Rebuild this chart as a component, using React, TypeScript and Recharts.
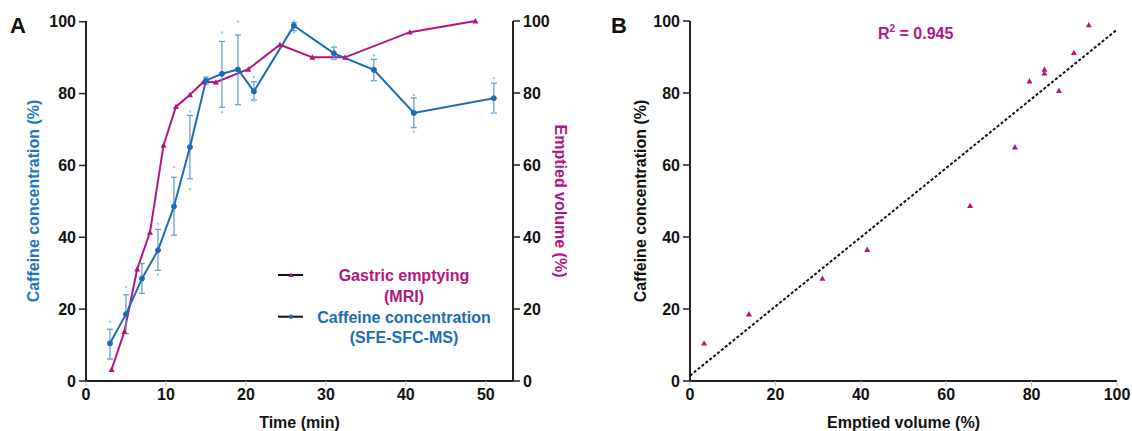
import React from "react";
import {
  ComposedChart,
  Line,
  Scatter,
  XAxis,
  YAxis,
  ErrorBar,
} from "recharts";

// ---------- data ----------
const caffTime = [3, 5, 7, 9, 11, 13, 15, 17, 19, 21, 26, 31, 36, 41, 51];
const caffMean = [10.5, 18.6, 28.5, 36.4, 48.6, 65.1, 83.6, 85.5, 86.7, 80.6, 98.9, 91.2, 86.6, 74.6, 78.7];
const caffErrLow = [4.4, 5.4, 4.1, 5.6, 8.0, 8.8, 1.0, 9.3, 9.8, 2.4, 1.4, 1.7, 3.0, 4.1, 4.1];
const caffErrHigh = [3.9, 5.4, 4.2, 5.8, 8.1, 8.8, 1.0, 9.0, 9.6, 2.7, 0.9, 1.7, 2.9, 4.2, 4.2];

const repTime = [3, 5, 9, 9, 11, 13, 13, 17, 17, 19, 21, 21, 26, 26, 31, 31, 36, 36, 41, 41, 51, 51];
const repValue = [16.5, 26.2, 43.8, 29.6, 59.5, 75.0, 53.4, 97.0, 74.8, 100.1, 84.6, 78.0, 100.2, 97.0, 93.1, 89.5, 90.7, 83.6, 79.6, 69.4, 84.3, 74.6];

const gastTime = [3.2, 4.8, 6.4, 8.0, 9.7, 11.25, 13, 14.7, 16.25, 20.3, 24.25, 28.3, 32.4, 40.5, 48.7];
const gastVol = [3.2, 13.7, 31.1, 41.3, 65.5, 76.2, 79.5, 83.1, 83.0, 86.6, 93.4, 89.9, 89.9, 96.9, 100];

const emptiedX = [3.3, 13.8, 31.0, 41.5, 65.6, 76.1, 79.5, 83.0, 83.0, 86.4, 89.9, 93.4];
const caffY = [10.5, 18.6, 28.5, 36.5, 48.7, 65.0, 83.3, 86.6, 85.5, 80.7, 91.2, 98.9];

const trendX = [0, 100];
const trendY = [1.5, 97.6];

const timeTicks = [0, 10, 20, 30, 40, 50];
const pctTicks = [0, 20, 40, 60, 80, 100];
const volTicks = [0, 20, 40, 60, 80, 100];

const legendLabels = ["Gastric emptying", "(MRI)", "Caffeine concentration", "(SFE-SFC-MS)"];
const r2Text = "0.945";

// ---------- styles ----------
const BLUE = "#1c6cb3";
const AXIS_BLUE = "#2376bf";
const MAGENTA = "#b3157f";
const ERR = "#5b97d2";
const REP = "#8fd2f0";
const FONT = "'Liberation Sans', Arial, sans-serif";

const caffData = caffTime.map((t, i) => ({ t, c: caffMean[i], err: [caffErrLow[i], caffErrHigh[i]] }));
const repData = repTime.map((t, i) => ({ t, y: repValue[i] }));
const gastData = gastTime.map((t, i) => ({ t, g: gastVol[i] }));
const scatterData = emptiedX.map((x, i) => ({ x, y: caffY[i] }));
const trendData = trendX.map((x, i) => ({ x, y: trendY[i] }));

const tickStyle = { fill: "#111", fontSize: 16, fontWeight: "bold", fontFamily: FONT };

const tri = (cx: number, cy: number, color: string, s = 3) => (
  <path d={`M${cx},${cy - s} L${cx + s},${cy + s * 0.8} L${cx - s},${cy + s * 0.8} Z`} fill={color} />
);

const TriDot = (props: any) => {
  const { cx, cy, index } = props;
  if (cx == null || cy == null) return <g key={index} />;
  return <g key={index}>{tri(cx, cy, MAGENTA)}</g>;
};

const RepDot = (props: any) => {
  const { cx, cy } = props;
  return <circle cx={cx} cy={cy} r={1.2} fill={REP} />;
};

const ScatterTri = (props: any) => {
  const { cx, cy } = props;
  return tri(cx, cy, MAGENTA, 3);
};

const NoShape = () => <g />;

const axisLabel = (text: string, color: string, angle: number, off: number) => (p: any) => {
  const vb = p.viewBox || {};
  let x: number, y: number;
  if (angle !== 0) {
    x = vb.x + off;
    y = vb.y + vb.height / 2;
  } else {
    x = vb.x + vb.width / 2;
    y = vb.y + off;
  }
  return (
    <text
      x={x}
      y={y}
      transform={angle !== 0 ? `rotate(${angle}, ${x}, ${y})` : undefined}
      textAnchor="middle"
      dominantBaseline="central"
      fill={color}
      fontSize={16}
      fontWeight="bold"
      fontFamily={FONT}
    >
      {text}
    </text>
  );
};

export default function App() {
  return (
    <div style={{ position: "absolute", left: 0, top: 0, width: 1132, height: 431, background: "#fff", fontFamily: FONT }}>
      <div style={{ position: "absolute", left: 0, top: 0 }}>
        <ComposedChart width={575} height={431} margin={{ top: 21, right: 15, bottom: 0, left: 0 }}>
          <XAxis
            type="number"
            dataKey="t"
            domain={[0, 53.4]}
            ticks={timeTicks}
            allowDataOverflow
            height={50}
            axisLine={{ stroke: "#222", strokeWidth: 2 }}
            tickLine={{ stroke: "#bbb", strokeWidth: 1 }}
            tickSize={5}
            tickMargin={3}
            tick={tickStyle}
            label={axisLabel("Time (min)", "#111", 0, 41)}
          />
          <YAxis
            yAxisId="L"
            type="number"
            domain={[0, 100]}
            ticks={pctTicks}
            width={86}
            axisLine={{ stroke: "#222", strokeWidth: 2 }}
            tickLine={{ stroke: "#222", strokeWidth: 1.5 }}
            tickSize={7}
            tickMargin={3}
            tick={tickStyle}
            label={axisLabel("Caffeine concentration (%)", AXIS_BLUE, -90, 33)}
          />
          <YAxis
            yAxisId="R"
            orientation="right"
            type="number"
            domain={[0, 100]}
            ticks={volTicks}
            width={47}
            axisLine={{ stroke: "#222", strokeWidth: 2 }}
            tickLine={{ stroke: "#222", strokeWidth: 1.5 }}
            tickSize={7}
            tickMargin={3}
            tick={tickStyle}
            label={axisLabel("Emptied volume (%)", MAGENTA, 90, 47)}
          />
          <Scatter yAxisId="L" data={repData} dataKey="y" shape={RepDot} isAnimationActive={false} legendType="none" />
          <Line
            yAxisId="R"
            data={gastData}
            dataKey="g"
            type="linear"
            stroke={MAGENTA}
            strokeWidth={2}
            dot={TriDot}
            activeDot={false}
            isAnimationActive={false}
          />
          <Line
            yAxisId="L"
            data={caffData}
            dataKey="c"
            type="linear"
            stroke={BLUE}
            strokeWidth={2}
            dot={{ r: 2.5, fill: BLUE, stroke: BLUE, strokeWidth: 1 }}
            activeDot={false}
            isAnimationActive={false}
          >
            <ErrorBar dataKey="err" width={3} stroke={ERR} strokeWidth={1.2} direction="y" isAnimationActive={false} />
          </Line>
        </ComposedChart>
      </div>

      <div style={{ position: "absolute", left: 575, top: 0 }}>
        <ComposedChart width={557} height={431} margin={{ top: 21, right: 15, bottom: 0, left: 0 }}>
          <XAxis
            type="number"
            dataKey="x"
            domain={[0, 100]}
            ticks={volTicks}
            height={50}
            axisLine={{ stroke: "#222", strokeWidth: 2 }}
            tickLine={{ stroke: "#bbb", strokeWidth: 1 }}
            tickSize={5}
            tickMargin={3}
            tick={tickStyle}
            label={axisLabel("Emptied volume (%)", "#111", 0, 41)}
          />
          <YAxis
            type="number"
            dataKey="y"
            domain={[0, 100]}
            ticks={pctTicks}
            width={115}
            axisLine={{ stroke: "#222", strokeWidth: 2 }}
            tickLine={{ stroke: "#222", strokeWidth: 1.5 }}
            tickSize={7}
            tickMargin={3}
            tick={tickStyle}
            label={axisLabel("Caffeine concentration (%)", "#111", -90, 65)}
          />
          <Scatter
            data={trendData}
            dataKey="y"
            shape={NoShape}
            line={{ stroke: "#111", strokeWidth: 2, strokeDasharray: "3 2" }}
            isAnimationActive={false}
            legendType="none"
          />
          <Scatter data={scatterData} dataKey="y" shape={ScatterTri} isAnimationActive={false} legendType="none" />
        </ComposedChart>
      </div>

      <svg width={1132} height={431} style={{ position: "absolute", left: 0, top: 0, pointerEvents: "none" }}>
        <g fontFamily={FONT} fontWeight="bold">
          <text x={10} y={33} fontSize={22} fill="#111">A</text>
          <text x={611} y={33} fontSize={22} fill="#111">B</text>

          <line x1={278} x2={303} y1={275} y2={275} stroke="#111" strokeWidth={2} />
          {tri(291, 275, MAGENTA, 2.6)}
          <line x1={278} x2={303} y1={316.7} y2={316.7} stroke="#111" strokeWidth={2} />
          <circle cx={291} cy={316.7} r={2.2} fill={BLUE} />
          <g fontSize={16} textAnchor="middle">
            <text x={404} y={281} fill={MAGENTA}>{legendLabels[0]}</text>
            <text x={404} y={302} fill={MAGENTA}>{legendLabels[1]}</text>
            <text x={404} y={322.5} fill={BLUE}>{legendLabels[2]}</text>
            <text x={404} y={342.5} fill={BLUE}>{legendLabels[3]}</text>
          </g>

          <text x={878} y={39} fill={MAGENTA} fontSize={16}>
            R<tspan dy={-7} fontSize={10}>2</tspan>
            <tspan dy={7}>{` = ${r2Text}`}</tspan>
          </text>
        </g>
      </svg>
    </div>
  );
}
